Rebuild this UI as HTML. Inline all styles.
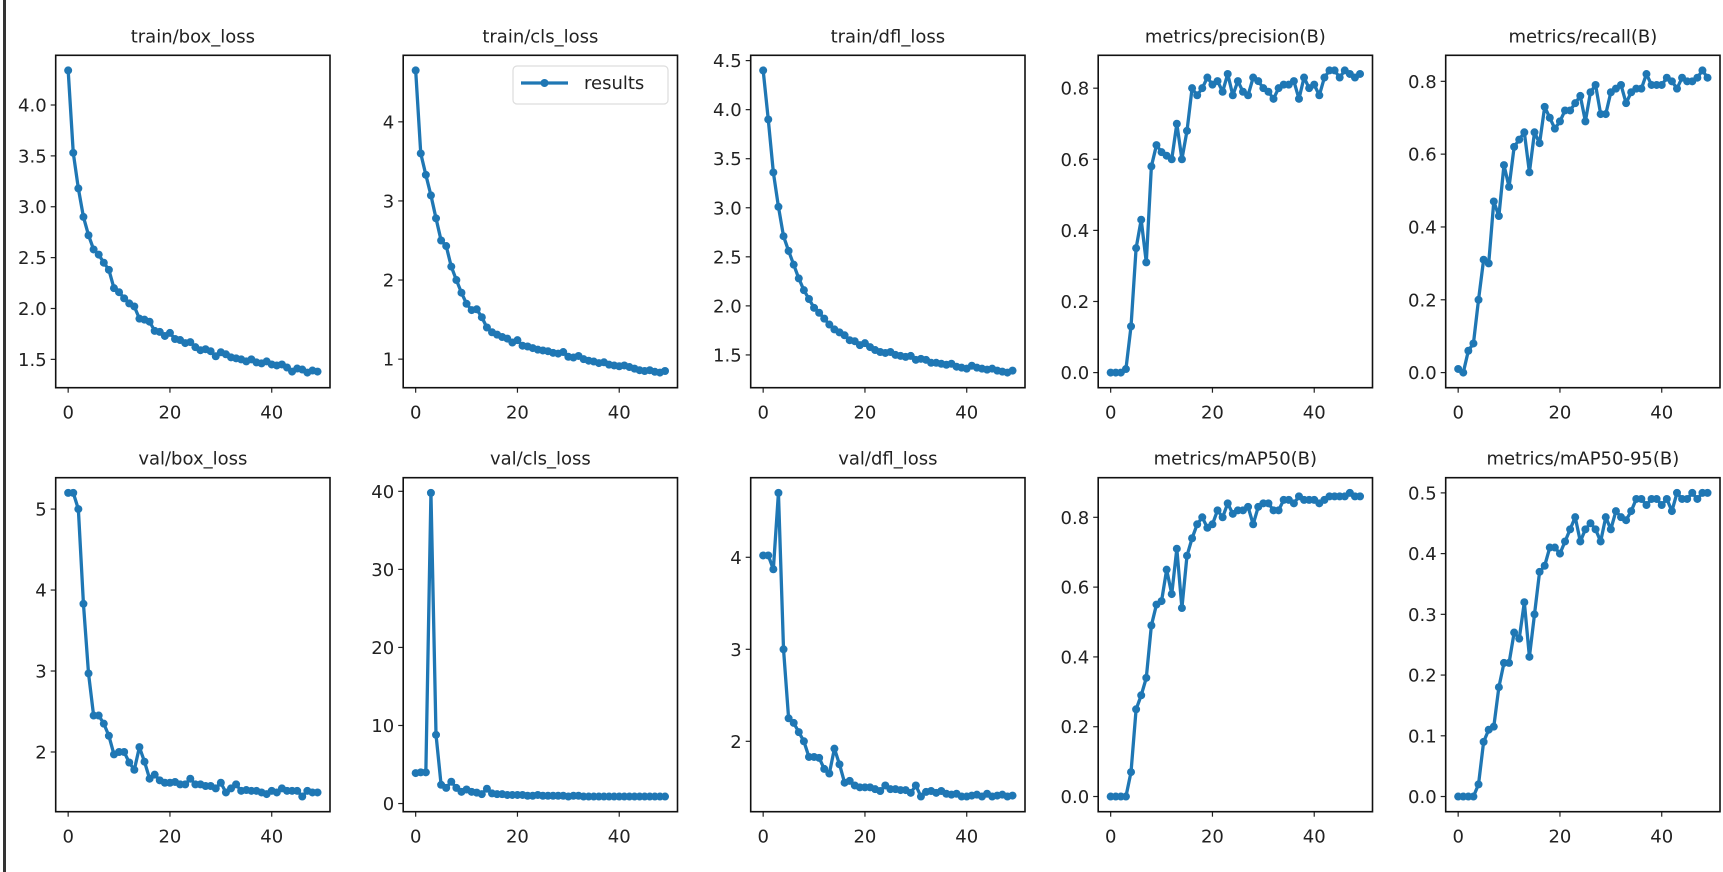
<!DOCTYPE html>
<html><head><meta charset="utf-8"><style>
html,body{margin:0;padding:0;background:#fff;}
svg{display:block;}
text{font-family:"DejaVu Sans","Liberation Sans",sans-serif;fill:#222;}
</style></head><body>
<svg id="fig" width="1723" height="872" viewBox="0 0 1723 872" xmlns="http://www.w3.org/2000/svg">
<rect x="0" y="0" width="1723" height="872" fill="#fff"/>
<rect x="3" y="0" width="3" height="872" fill="#333"/>
</svg>
<script>
const epochs = Array.from({length:50},(_,i)=>i);
const titles = ["train/box_loss","train/cls_loss","train/dfl_loss","metrics/precision(B)","metrics/recall(B)","val/box_loss","val/cls_loss","val/dfl_loss","metrics/mAP50(B)","metrics/mAP50-95(B)"];
const trainBox = [4.34,3.53,3.18,2.90,2.72,2.58,2.53,2.45,2.38,2.20,2.16,2.10,2.05,2.02,1.90,1.89,1.87,1.78,1.77,1.73,1.76,1.70,1.69,1.66,1.67,1.62,1.59,1.60,1.58,1.53,1.57,1.55,1.52,1.51,1.50,1.48,1.50,1.47,1.46,1.48,1.45,1.44,1.45,1.42,1.38,1.41,1.40,1.37,1.39,1.38];
const trainCls = [4.65,3.60,3.33,3.07,2.78,2.50,2.43,2.17,2.00,1.84,1.70,1.62,1.63,1.53,1.40,1.34,1.31,1.28,1.26,1.21,1.24,1.17,1.16,1.14,1.12,1.11,1.10,1.08,1.07,1.09,1.03,1.02,1.04,1.00,0.98,0.97,0.95,0.96,0.93,0.92,0.91,0.92,0.90,0.88,0.86,0.85,0.86,0.84,0.83,0.85];
const trainDfl = [4.40,3.90,3.36,3.01,2.71,2.56,2.42,2.28,2.16,2.07,1.98,1.93,1.87,1.81,1.76,1.73,1.70,1.65,1.64,1.60,1.62,1.58,1.55,1.53,1.52,1.53,1.50,1.49,1.48,1.49,1.45,1.46,1.45,1.42,1.42,1.41,1.40,1.41,1.38,1.37,1.36,1.39,1.37,1.36,1.35,1.36,1.34,1.33,1.32,1.34];
const precision = [0.0,0.0,0.0,0.01,0.13,0.35,0.43,0.31,0.58,0.64,0.62,0.61,0.60,0.70,0.60,0.68,0.80,0.78,0.80,0.83,0.81,0.82,0.79,0.84,0.78,0.82,0.79,0.78,0.83,0.82,0.80,0.79,0.77,0.80,0.81,0.81,0.82,0.77,0.83,0.80,0.81,0.78,0.83,0.85,0.85,0.83,0.85,0.84,0.83,0.84];
const recall = [0.01,0.0,0.06,0.08,0.20,0.31,0.30,0.47,0.43,0.57,0.51,0.62,0.64,0.66,0.55,0.66,0.63,0.73,0.70,0.67,0.69,0.72,0.72,0.74,0.76,0.69,0.77,0.79,0.71,0.71,0.77,0.78,0.79,0.74,0.77,0.78,0.78,0.82,0.79,0.79,0.79,0.81,0.80,0.78,0.81,0.80,0.80,0.81,0.83,0.81];
const valBox = [5.2,5.2,5.0,3.83,2.97,2.45,2.45,2.35,2.2,1.97,2.0,2.0,1.87,1.78,2.06,1.88,1.67,1.72,1.65,1.62,1.62,1.63,1.60,1.60,1.67,1.60,1.60,1.58,1.58,1.55,1.62,1.50,1.55,1.60,1.52,1.53,1.52,1.52,1.50,1.48,1.52,1.50,1.55,1.52,1.52,1.52,1.45,1.52,1.50,1.50];
const valCls = [3.9,4.0,4.0,39.8,8.8,2.4,2.0,2.8,2.0,1.5,1.8,1.5,1.4,1.2,1.9,1.3,1.2,1.2,1.1,1.1,1.1,1.1,1.0,1.0,1.1,1.0,1.0,1.0,1.0,1.0,0.9,1.0,1.0,0.9,0.9,0.9,0.9,0.9,0.9,0.9,0.9,0.9,0.9,0.9,0.9,0.9,0.9,0.9,0.9,0.9];
const valDfl = [4.02,4.02,3.87,4.70,3.00,2.25,2.20,2.10,2.00,1.83,1.83,1.82,1.70,1.65,1.92,1.75,1.55,1.57,1.52,1.50,1.50,1.50,1.48,1.46,1.52,1.48,1.48,1.47,1.47,1.44,1.52,1.40,1.45,1.46,1.44,1.46,1.43,1.42,1.43,1.40,1.40,1.41,1.42,1.40,1.43,1.40,1.41,1.42,1.40,1.41];
const map50 = [0,0,0,0,0.07,0.25,0.29,0.34,0.49,0.55,0.56,0.65,0.58,0.71,0.54,0.69,0.74,0.78,0.80,0.77,0.78,0.82,0.80,0.84,0.81,0.82,0.82,0.83,0.78,0.83,0.84,0.84,0.82,0.82,0.85,0.85,0.84,0.86,0.85,0.85,0.85,0.84,0.85,0.86,0.86,0.86,0.86,0.87,0.86,0.86];
const map5095 = [0,0,0,0,0.02,0.09,0.11,0.115,0.18,0.22,0.22,0.27,0.26,0.32,0.23,0.30,0.37,0.38,0.41,0.41,0.40,0.42,0.44,0.46,0.42,0.44,0.45,0.44,0.42,0.46,0.44,0.47,0.46,0.455,0.47,0.49,0.49,0.48,0.49,0.49,0.48,0.49,0.47,0.50,0.49,0.49,0.50,0.49,0.50,0.50];
const xTicks = [0,20,40];
const yTicksBox = [1.5,2.0,2.5,3.0,3.5,4.0];
const yTicksCls = [1,2,3,4];
const yTicksDfl = [1.5,2.0,2.5,3.0,3.5,4.0,4.5];
const yTicksMetric = [0.0,0.2,0.4,0.6,0.8];
const yTicksValBox = [2,3,4,5];
const yTicksValCls = [0,10,20,30,40];
const yTicksValDfl = [2,3,4];
const yTicksMap = [0.0,0.1,0.2,0.3,0.4,0.5];
const yDecimals = [1,0,1,1,1,0,0,0,1,1];

const series = [trainBox,trainCls,trainDfl,precision,recall,valBox,valCls,valDfl,map50,map5095];
const yTickSets = [yTicksBox,yTicksCls,yTicksDfl,yTicksMetric,yTicksMetric,yTicksValBox,yTicksValCls,yTicksValDfl,yTicksMetric,yTicksMap];

const NS = "http://www.w3.org/2000/svg";
const svg = document.getElementById('fig');
const W = 274.3, lefts = [55.7,403.2,750.7,1098.2,1445.7];
const rows = [{top:55.3,bottom:387.7},{top:477.7,bottom:811.7}];
function mk(tag, attrs, parent){const e=document.createElementNS(NS,tag);for(const k in attrs)e.setAttribute(k,attrs[k]);(parent||svg).appendChild(e);return e;}
const slug = s => s.replace(/[^a-zA-Z0-9]+/g,'-').replace(/-+$/,'').toLowerCase();

series.forEach((data, p) => {
  const L = lefts[p%5], R = L+W, T = rows[Math.floor(p/5)].top, B = rows[Math.floor(p/5)].bottom;
  const xmin0 = Math.min(...epochs), xmax0 = Math.max(...epochs), xm = (xmax0-xmin0)*0.05;
  const ymin0 = Math.min(...data), ymax0 = Math.max(...data), ym = (ymax0-ymin0)*0.05;
  const x = v => L + (v-(xmin0-xm))/((xmax0+xm)-(xmin0-xm))*W;
  const y = v => B - (v-(ymin0-ym))/((ymax0+ym)-(ymin0-ym))*(B-T);
  const g = mk('g',{});
  
  
  const title = mk('text',{x:(L+R)/2,y:T-13,'text-anchor':'middle','font-size':18},g);
  title.textContent = titles[p];
  
  
  xTicks.forEach(t=>{
    const tx=x(t);
    const tk = mk('line',{x1:tx,x2:tx,y1:B,y2:B+5,stroke:'#222','stroke-width':1.2},g);
    
    
    const lb = mk('text',{x:tx,y:B+31,'text-anchor':'middle','font-size':18},g);
    lb.textContent = String(t);
    
    
  });
  yTickSets[p].forEach(t=>{
    const ty=y(t);
    if(ty<T-1||ty>B+1) return;
    const tk = mk('line',{x1:L-5,x2:L,y1:ty,y2:ty,stroke:'#222','stroke-width':1.2},g);
    
    
    const lb = mk('text',{x:L-9,y:ty+6.5,'text-anchor':'end','font-size':18},g);
    lb.textContent = t.toFixed(yDecimals[p]);
    
    
  });
  const pts = data.map((v,i)=>x(epochs[i]).toFixed(2)+','+y(v).toFixed(2)).join(' ');
  const line = mk('polyline',{points:pts,fill:'none',stroke:'#1f77b4','stroke-width':3.3,'stroke-linejoin':'round'},g);
  
  
  data.forEach((v,i)=>{
    const c = mk('circle',{cx:x(epochs[i]),cy:y(v),r:4,fill:'#1f77b4'},g);
    
    
  });
  const frame = mk('rect',{x:L,y:T,width:W,height:B-T,fill:'none',stroke:'#111','stroke-width':1.6},g);
  
  
  if(p===1){
    const lg = mk('g',{},g);
    
    
    mk('rect',{x:513,y:66,width:155,height:38,rx:4,fill:'#fff',stroke:'#ddd','stroke-width':1.2},lg);
    const ll = mk('line',{x1:521,x2:568,y1:83,y2:83,stroke:'#1f77b4','stroke-width':3.3},lg);
    
    
    mk('circle',{cx:544.5,cy:83,r:4,fill:'#1f77b4'},lg);
    const lt = mk('text',{x:584,y:89,'font-size':18},lg);
    lt.textContent = 'results';
    
    
  }
});
</script>
</body></html>
